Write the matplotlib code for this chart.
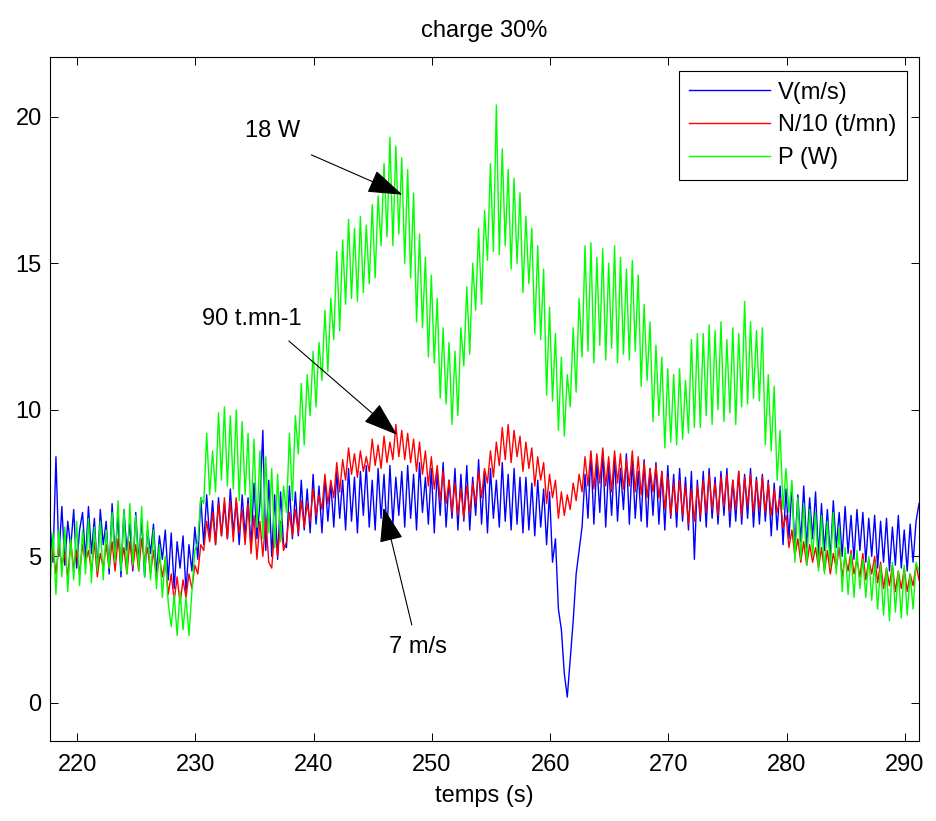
import numpy as np
import matplotlib.pyplot as plt

plt.rcParams['font.family'] = ['Liberation Sans', 'DejaVu Sans']

# échantillonnage : 0.25 s à partir de 217.7 s
t0 = 217.7
dt = 0.25

# V (m/s)
v = [6.1, 4.8, 8.4, 5.0, 6.7, 4.7, 6.2, 5.3, 6.6, 4.6, 5.9, 6.5, 4.9, 6.7, 5.1, 6.3, 4.5, 6.6, 5.4, 6.2,
     4.4, 6.8, 5.0, 6.4, 4.3, 6.6, 5.2, 6.1, 4.5, 6.5, 4.8, 6.3, 4.3, 5.9, 5.1, 6.1, 4.4, 5.7, 4.9, 5.9,
     4.2, 5.8, 3.9, 5.5, 4.6, 5.7, 3.8, 5.4, 4.5, 6.0, 4.9, 7.0, 5.4, 7.1, 5.6, 6.9, 5.4, 7.0, 5.7, 6.8,
     5.6, 7.3, 5.8, 6.9, 5.4, 7.1, 5.7, 7.0, 5.3, 7.5, 5.6, 6.8, 9.3, 5.2, 7.6, 5.0, 7.1, 4.9, 7.2, 5.4,
     5.3, 7.4, 5.6, 7.2, 5.7, 7.6, 5.9, 7.3, 5.8, 7.8, 6.1, 7.4, 5.8, 7.7, 6.2, 7.5, 6.0, 7.9, 6.3, 7.6,
     5.9, 8.0, 6.2, 7.7, 5.8, 7.9, 6.4, 8.1, 6.0, 7.6, 5.9, 8.0, 6.3, 7.8, 5.8, 8.1, 6.1, 7.7, 6.4, 7.9,
     6.0, 8.1, 6.3, 7.8, 5.9, 8.2, 6.5, 7.7, 6.1, 8.0, 5.8, 7.9, 6.4, 8.2, 6.0, 7.6, 6.3, 8.0, 5.9, 7.8,
     6.2, 8.1, 5.9, 7.7, 6.4, 8.3, 6.1, 7.9, 5.8, 8.0, 6.3, 7.6, 6.0, 8.2, 6.2, 7.8, 5.9, 8.0, 6.1, 7.7,
     5.8, 7.7, 5.9, 7.5, 5.7, 7.6, 6.0, 7.3, 5.4, 7.2, 4.8, 5.6, 3.2, 2.5, 1.0, 0.2, 1.5, 2.8, 4.4, 5.2,
     6.0, 7.8, 6.3, 8.5, 6.1, 8.2, 6.5, 8.6, 6.0, 8.1, 6.4, 8.4, 6.2, 8.0, 6.6, 8.5, 6.1, 8.3, 6.3, 7.9,
     6.2, 8.3, 6.0, 8.0, 6.4, 8.2, 6.1, 7.9, 5.9, 8.1, 6.3, 7.8, 6.0, 8.0, 6.2, 7.7, 5.9, 7.9, 4.9, 7.6,
     6.2, 7.9, 6.0, 8.0, 6.3, 7.7, 6.1, 7.9, 6.4, 8.0, 6.0, 7.6, 6.2, 7.9, 6.1, 7.8, 6.3, 8.0, 6.0, 7.7,
     6.1, 7.8, 6.2, 7.6, 5.7, 7.5, 5.9, 7.4, 5.4, 7.3, 5.6, 7.4, 5.3, 7.1, 5.5, 7.4, 5.3, 7.0, 5.6, 7.2,
     5.0, 6.8, 5.2, 6.6, 4.9, 6.9, 5.3, 6.5, 5.0, 6.7, 5.1, 6.4, 4.9, 6.6, 5.2, 6.5, 4.8, 6.3, 5.0, 6.4,
     4.6, 6.2, 4.8, 6.3, 4.5, 6.0, 4.7, 6.4, 4.6, 5.9, 4.5, 6.1, 4.8, 6.2, 6.8]

# N/10 (t/mn)
n = [4.5, 5.3, 4.4, 5.4, 4.7, 5.1, 4.3, 5.5, 4.6, 5.2, 4.4, 5.4, 4.8, 5.2, 4.5, 5.5, 4.3, 5.1, 4.6, 5.4,
     4.6, 5.5, 4.5, 5.6, 4.7, 5.3, 4.4, 5.5, 4.6, 5.4, 4.5, 5.6, 4.8, 5.3, 4.4, 5.2, 4.2, 5.0, 4.3, 4.9,
     3.7, 4.4, 3.5, 4.3, 3.4, 4.2, 3.6, 4.4, 3.9, 4.7, 4.4, 5.4, 5.2, 6.2, 5.5, 6.5, 5.4, 6.8, 5.7, 7.0,
     5.6, 6.9, 5.5, 7.0, 5.8, 6.6, 5.4, 6.8, 5.1, 6.4, 4.9, 6.2, 5.0, 6.3, 4.8, 4.6, 5.9, 5.0, 6.2, 5.2,
     5.5, 6.5, 5.7, 6.6, 5.8, 6.9, 6.0, 6.8, 6.2, 7.3, 6.4, 7.1, 6.6, 7.8, 6.8, 7.6, 7.0, 8.2, 7.2, 8.3,
     7.6, 8.7, 7.8, 8.5, 7.7, 8.6, 7.9, 8.4, 7.9, 9.0, 8.1, 8.8, 8.0, 9.1, 8.2, 8.9, 8.3, 9.5, 8.4, 9.3,
     8.3, 9.2, 8.2, 9.0, 7.9, 8.9, 7.8, 8.6, 7.4, 8.4, 7.3, 8.1, 6.9, 7.9, 6.8, 7.6, 6.5, 7.5, 6.4, 7.3,
     6.3, 7.4, 6.5, 7.5, 6.8, 7.9, 7.0, 8.0, 7.5, 8.6, 7.7, 8.9, 8.1, 9.4, 8.3, 9.5, 8.2, 9.3, 8.4, 9.1,
     7.9, 8.9, 8.0, 8.7, 7.4, 8.4, 7.6, 8.2, 6.8, 7.8, 7.0, 7.6, 6.3, 7.2, 6.4, 7.1, 6.6, 7.5, 6.9, 7.8,
     7.2, 8.4, 7.4, 8.6, 7.3, 8.5, 7.5, 8.7, 7.4, 8.4, 7.2, 8.6, 7.5, 8.5, 7.3, 8.3, 7.4, 8.6, 7.2, 8.4,
     7.1, 8.2, 7.0, 8.0, 7.2, 8.1, 7.0, 7.9, 6.6, 7.7, 6.4, 7.5, 6.5, 7.6, 6.4, 7.4, 6.1, 7.3, 6.2, 7.4,
     6.4, 7.6, 6.5, 7.8, 6.6, 7.5, 6.4, 7.7, 6.7, 7.8, 6.5, 7.6, 6.6, 7.9, 6.4, 7.7, 6.7, 7.8, 6.5, 7.6,
     6.6, 7.7, 6.5, 7.5, 6.4, 7.3, 6.5, 7.0, 6.0, 6.4, 5.3, 5.9, 5.0, 5.6, 4.8, 5.5, 4.7, 5.4, 4.8, 5.3,
     4.6, 5.3, 4.5, 5.2, 4.4, 5.1, 4.6, 5.3, 4.3, 5.0, 4.5, 5.2, 4.4, 4.9, 4.3, 5.1, 4.2, 4.9, 4.4, 5.0,
     4.1, 4.8, 3.9, 4.6, 4.0, 4.7, 3.8, 4.5, 3.9, 4.6, 3.8, 4.4, 4.0, 4.7, 4.2]

# P (W)
p = [4.0, 5.8, 3.7, 5.9, 4.3, 6.0, 3.8, 5.6, 4.2, 6.2, 4.0, 5.9, 4.4, 6.3, 4.1, 6.0, 4.5, 6.2, 4.2, 5.9,
     4.6, 6.5, 4.8, 6.9, 4.5, 6.6, 4.4, 6.8, 4.7, 6.4, 4.5, 6.7, 4.3, 6.2, 4.2, 5.9, 3.9, 5.4, 3.6, 5.0,
     3.4, 2.6, 3.7, 2.3, 3.8, 2.5, 3.6, 2.3, 3.8, 5.2, 5.5, 7.0, 6.8, 9.2, 7.1, 8.6, 7.2, 9.9, 7.6, 10.1,
     7.4, 9.8, 7.3, 10.0, 6.9, 9.6, 7.1, 9.2, 6.2, 9.0, 6.0, 8.6, 5.6, 8.4, 5.8, 8.0, 5.3, 7.8, 5.5, 7.4,
     6.5, 9.2, 6.9, 9.8, 8.5, 10.9, 8.8, 11.2, 9.8, 12.0, 10.1, 12.3, 11.0, 13.4, 11.3, 13.8, 12.4, 15.4, 12.7, 15.8,
     13.6, 16.5, 13.8, 16.2, 13.7, 16.6, 14.0, 16.3, 14.3, 17.0, 14.5, 17.3, 15.6, 18.4, 15.9, 19.3, 15.6, 19.0, 16.0, 18.6,
     15.0, 18.2, 14.5, 17.4, 13.0, 16.0, 12.8, 15.2, 11.8, 14.6, 11.6, 13.8, 10.4, 12.8, 10.2, 12.3, 9.5, 12.0, 9.8, 12.8,
     11.5, 14.2, 11.9, 15.0, 13.4, 16.2, 13.6, 16.8, 15.1, 18.4, 15.4, 20.4, 15.3, 18.9, 15.6, 18.2, 14.8, 17.9, 15.0, 17.4,
     14.0, 16.6, 14.3, 16.2, 12.6, 15.6, 12.4, 14.8, 10.5, 13.5, 10.3, 12.6, 9.3, 11.8, 9.1, 11.2, 10.1, 12.8, 10.6, 13.8,
     11.8, 15.6, 12.0, 15.7, 11.6, 15.2, 12.2, 15.5, 11.7, 15.0, 12.1, 15.6, 11.6, 15.2, 11.9, 14.8, 11.7, 15.1, 12.0, 14.6,
     10.8, 13.6, 11.0, 13.0, 9.6, 12.2, 9.8, 11.8, 8.7, 11.4, 8.9, 11.2, 8.8, 11.4, 9.0, 11.0, 9.2, 12.4, 9.4, 12.6,
     9.4, 12.6, 9.8, 12.9, 9.5, 12.7, 10.0, 13.0, 9.6, 12.4, 9.9, 12.8, 9.5, 12.6, 10.1, 13.7, 10.2, 13.0, 10.4, 12.7,
     10.3, 12.8, 8.8, 11.2, 8.6, 10.8, 7.6, 9.3, 6.6, 8.0, 6.5, 7.6, 4.8, 7.0, 4.9, 6.8, 4.7, 6.6, 5.0, 6.5,
     4.5, 6.4, 4.4, 6.2, 4.6, 6.5, 4.4, 6.0, 3.8, 5.3, 3.7, 5.1, 3.6, 5.2, 3.9, 4.9, 3.6, 5.0, 3.5, 4.8,
     3.2, 4.7, 3.0, 4.6, 2.8, 4.8, 3.1, 4.5, 2.9, 4.7, 3.0, 4.4, 3.2, 4.8, 4.5]

t = t0 + dt * np.arange(len(v))

fs = 17

fig = plt.figure(figsize=(9.37, 8.21), dpi=100)
ax = fig.add_axes([0.0534, 0.0974, 0.9274, 0.8336])

ax.plot(t, v, color=(0, 0, 1), lw=1.0, label='V(m/s)')
ax.plot(t, n, color=(1, 0, 0), lw=1.0, label='N/10 (t/mn)')
ax.plot(t, p, color=(0, 1, 0), lw=1.0, label='P (W)')

ax.set_xlim(217.7, 291.2)
ax.set_ylim(-1.3, 22.05)
ax.set_xticks(range(220, 291, 10))
ax.set_yticks([0, 5, 10, 15, 20])
ax.tick_params(direction='in', top=True, right=True, length=6, width=0.7,
               labelsize=fs, pad=6)
ax.tick_params(axis='x', pad=9)
for s in ax.spines.values():
    s.set_linewidth(0.8)

ax.set_title('charge 30%', fontsize=fs, pad=14)
ax.set_xlabel('temps (s)', fontsize=fs, labelpad=7)

# annotations avec flèches
arrow = dict(arrowstyle='-|>,head_length=2.2,head_width=0.75', color='k',
             lw=0.8, shrinkA=0, shrinkB=0)
ax.text(236.5, 19.5, '18 W', fontsize=fs, ha='center', va='center')
ax.annotate('', xy=(247.5, 17.34), xytext=(239.8, 18.7), arrowprops=arrow)
ax.text(234.8, 13.1, '90 t.mn-1', fontsize=fs, ha='center', va='center')
ax.annotate('', xy=(247.05, 9.15), xytext=(237.9, 12.35), arrowprops=arrow)
ax.text(248.8, 1.9, '7 m/s', fontsize=fs, ha='center', va='center')
ax.annotate('', xy=(245.9, 6.66), xytext=(248.3, 2.66), arrowprops=arrow)

leg = ax.legend(loc='upper right', bbox_to_anchor=(0.986, 0.979),
                borderaxespad=0, fancybox=False, edgecolor='k', framealpha=1,
                fontsize=fs, handlelength=3.4, handletextpad=0.35,
                borderpad=0.45, labelspacing=0.45)
leg.get_frame().set_linewidth(0.8)

fig.savefig('out.png', dpi=100)
